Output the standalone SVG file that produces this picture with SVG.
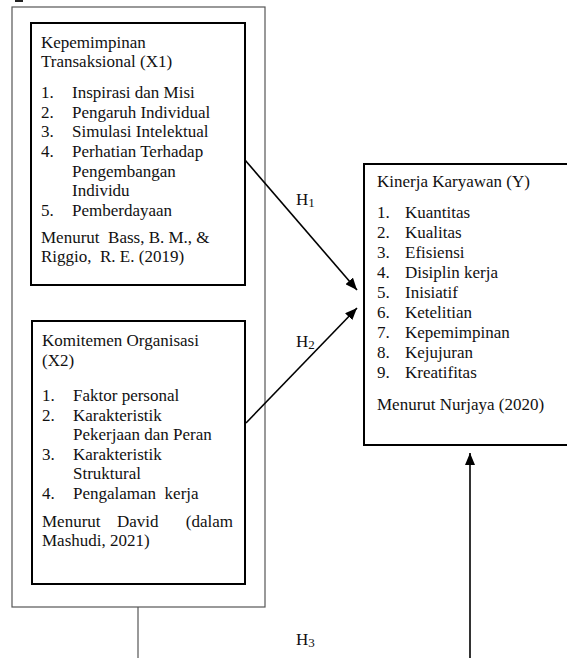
<svg xmlns="http://www.w3.org/2000/svg" width="567" height="658" viewBox="0 0 567 658">
<style>
text{font-family:"Liberation Serif","Times New Roman",serif;font-size:17px;fill:#111}
.pre{white-space:pre}
.box{fill:none;stroke:#000;stroke-width:2}
.outer{fill:none;stroke:#555;stroke-width:1.2}
.con{stroke:#000;stroke-width:1.6;fill:none}
.h{font-size:17px}
.sub{font-size:13px}
</style>
<defs>
<marker id="ah" viewBox="0 0 12 10" refX="12" refY="5" markerWidth="12" markerHeight="10" markerUnits="userSpaceOnUse" orient="auto">
<path d="M0,0 L12,5 L0,10 Z" fill="#000"/>
</marker>
</defs>
<rect x="15" y="0" width="8" height="2" fill="#222"/>
<g id="outer-group">
<rect class="outer" x="12" y="7" width="253" height="600"/>
</g>
<g id="x1">
<rect class="box" x="31" y="23" width="214" height="262"/>
<text x="41" y="48">Kepemimpinan</text>
<text x="41" y="67">Transaksional (X1)</text>
<text x="41" y="98">1.</text><text x="72" y="98">Inspirasi dan Misi</text>
<text x="41" y="117.5">2.</text><text x="72" y="117.5">Pengaruh Individual</text>
<text x="41" y="137">3.</text><text x="72" y="137">Simulasi Intelektual</text>
<text x="41" y="157">4.</text><text x="72" y="157">Perhatian Terhadap</text>
<text x="72" y="176.5">Pengembangan</text>
<text x="72" y="196">Individu</text>
<text x="41" y="216">5.</text><text x="72" y="216">Pemberdayaan</text>
<text class="pre" x="41" y="243">Menurut  Bass, B. M., &amp;</text>
<text class="pre" x="41" y="262">Riggio,  R. E. (2019)</text>
</g>
<g id="x2">
<rect class="box" x="32" y="321" width="213" height="263"/>
<text x="42" y="346">Komitemen Organisasi</text>
<text x="42" y="366">(X2)</text>
<text x="42" y="401">1.</text><text x="73" y="401">Faktor personal</text>
<text x="42" y="420.5">2.</text><text x="73" y="420.5">Karakteristik</text>
<text x="73" y="440">Pekerjaan dan Peran</text>
<text x="42" y="459.5">3.</text><text x="73" y="459.5">Karakteristik</text>
<text x="73" y="479">Struktural</text>
<text x="42" y="498.5">4.</text><text class="pre" x="73" y="498.5">Pengalaman  kerja</text>
<text x="42" y="527">Menurut</text><text x="117" y="527">David</text><text x="233" y="527" text-anchor="end">(dalam</text>
<text x="42" y="546">Mashudi, 2021)</text>
</g>
<g id="y">
<rect class="box" x="364" y="164" width="210" height="281"/>
<text x="377" y="187">Kinerja Karyawan (Y)</text>
<text x="377" y="218">1.</text><text x="405" y="218">Kuantitas</text>
<text x="377" y="238">2.</text><text x="405" y="238">Kualitas</text>
<text x="377" y="258">3.</text><text x="405" y="258">Efisiensi</text>
<text x="377" y="278">4.</text><text x="405" y="278">Disiplin kerja</text>
<text x="377" y="298">5.</text><text x="405" y="298">Inisiatif</text>
<text x="377" y="318">6.</text><text x="405" y="318">Ketelitian</text>
<text x="377" y="338">7.</text><text x="405" y="338">Kepemimpinan</text>
<text x="377" y="358">8.</text><text x="405" y="358">Kejujuran</text>
<text x="377" y="378">9.</text><text x="405" y="378">Kreatifitas</text>
<text x="377" y="410">Menurut Nurjaya (2020)</text>
</g>
<g id="connectors">
<line class="con" x1="245" y1="160" x2="357" y2="290" marker-end="url(#ah)"/>
<line class="con" x1="246" y1="423" x2="357" y2="308" marker-end="url(#ah)"/>
<line class="con" x1="470" y1="658" x2="470" y2="453" marker-end="url(#ah)"/>
<line x1="138" y1="607" x2="138" y2="658" stroke="#555" stroke-width="1.2"/>
<text class="h" x="296" y="205">H<tspan class="sub" dy="2">1</tspan></text>
<text class="h" x="296" y="347">H<tspan class="sub" dy="2">2</tspan></text>
<text class="h" x="296" y="645">H<tspan class="sub" dy="2">3</tspan></text>
</g>
</svg>
